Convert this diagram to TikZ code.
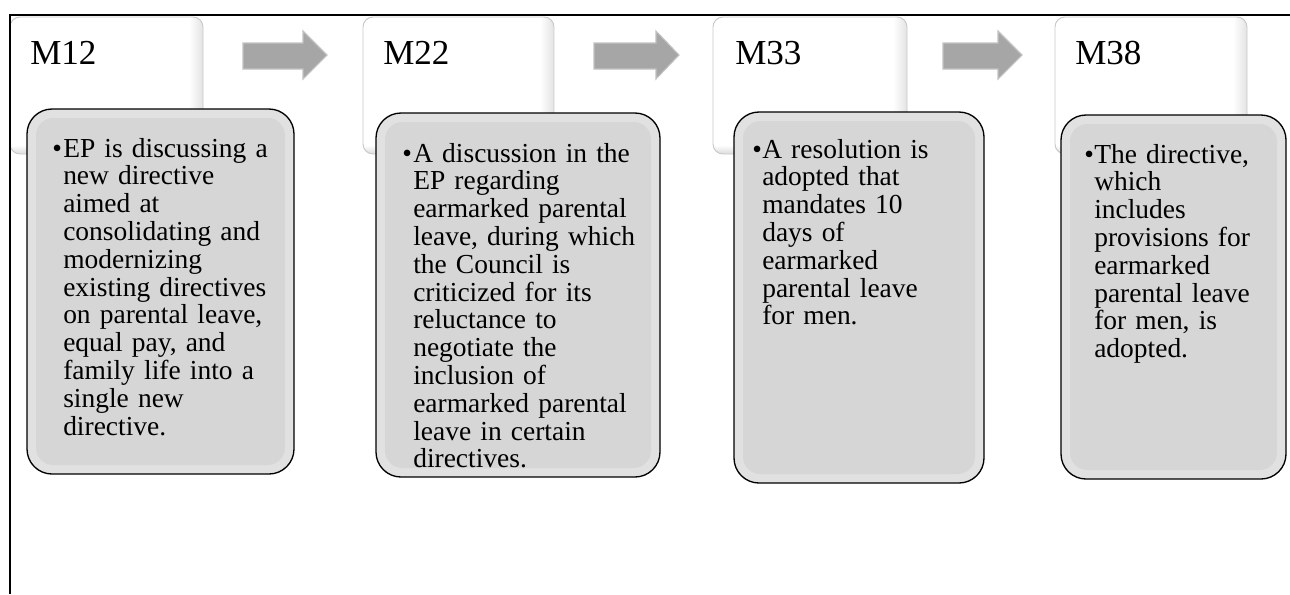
\documentclass[tikz,border=0pt]{standalone}
\usepackage{fontspec}
\setmainfont{Liberation Serif}
\definecolor{childfill}{HTML}{D6D6D6}
\definecolor{childring}{HTML}{E1E1E1}
\definecolor{arrowfill}{HTML}{A6A6A6}
\definecolor{arrowedge}{HTML}{C2C2C2}
\definecolor{headedge}{HTML}{C9C9C9}
\newcommand\myheadbox[4]{%
  \begin{scope}
    \path[clip, rounded corners=7.5pt] (#1,#2) rectangle (#3,#4);
    \fill[white] (#1,#2) rectangle (#3,#4);
    \shade[left color=white, right color=gray!22] (#3-14,#2) rectangle (#3,#4);
    \shade[top color=white, bottom color=gray!28] (#1,#4-9) rectangle (#3,#4);
  \end{scope}
  \draw[headedge, line width=0.7pt, rounded corners=7.5pt] (#1,#2) rectangle (#3,#4);
}
\newcommand\mychildbox[4]{%
  \fill[childring, rounded corners=18.75pt] (#1,#2) rectangle (#3,#4);
  \fill[childfill, rounded corners=13pt] (#1+9,#2+9) rectangle (#3-9,#4-9);
  \draw[black, line width=1pt, rounded corners=18.75pt] (#1,#2) rectangle (#3,#4);
}
\newcommand\myblockarrow[3]{%
  \filldraw[fill=arrowfill, draw=arrowedge, line width=0.8pt]
    (#1,43) -- (#2,43) -- (#2,31) -- (#3,55) -- (#2,79) -- (#2,69) -- (#1,69) -- cycle;
}
\tikzset{
  headtext/.style={anchor=base west, inner sep=0pt, font=\fontsize{26.3}{28}\selectfont},
  bodytext/.style={anchor=base west, inner sep=0pt, align=left, text width=220pt,
    font=\fontsize{20.6}{20.85}\selectfont},
  bullettext/.style={anchor=base west, inner sep=0pt, font=\fontsize{20.6}{20.85}\selectfont},
  frameline/.style={black, line width=1.1pt}
}
\begin{document}
\begin{tikzpicture}[x=0.75pt, y=-0.75pt]
\useasboundingbox (0,0) rectangle (1290,594);
% header boxes
\myheadbox{10}{17}{203}{154}
\myheadbox{363}{17}{554}{154}
\myheadbox{713}{17}{907}{154}
\myheadbox{1055}{17}{1247}{154}
% arrows
\myblockarrow{243}{303}{327}
\myblockarrow{594}{656}{679}
\myblockarrow{943}{998}{1022}
% child boxes
\mychildbox{27}{109}{294}{474}
\mychildbox{376}{113}{660}{477}
\mychildbox{734}{112}{984}{483}
\mychildbox{1061}{115}{1286}{479}
% headers
\node[headtext] (h1) at (30,64) {M12};
\node[headtext] (h2) at (383,64) {M22};
\node[headtext] (h3) at (735,64) {M33};
\node[headtext] (h4) at (1075,64) {M38};
% bullets
\node[bullettext] (b1) at (52,157) {•};
\node[bullettext] (b2) at (402,162) {•};
\node[bullettext] (b3) at (752,158) {•};
\node[bullettext] (b4) at (1084,163) {•};
% body texts
\node[bodytext] (t1) at (63,157) {EP is discussing a\\new directive\\aimed at\\consolidating and\\modernizing\\existing directives\\on parental leave,\\equal pay, and\\family life into a\\single new\\directive.};
\node[bodytext] (t2) at (413,162) {A discussion in the\\EP regarding\\earmarked parental\\leave, during which\\the Council is\\criticized for its\\reluctance to\\negotiate the\\inclusion of\\earmarked parental\\leave in certain\\directives.};
\node[bodytext] (t3) at (762,158) {A resolution is\\adopted that\\mandates 10\\days of\\earmarked\\parental leave\\for men.};
\node[bodytext] (t4) at (1094,163) {The directive,\\which\\includes\\provisions for\\earmarked\\parental leave\\for men, is\\adopted.};
% frame lines
\coordinate (c0) at (10,15);
\coordinate (cr) at (1290,15);
\coordinate (cb) at (10,594);
\draw[frameline] (cr) -- (c0) -- (cb);
\end{tikzpicture}
\end{document}
